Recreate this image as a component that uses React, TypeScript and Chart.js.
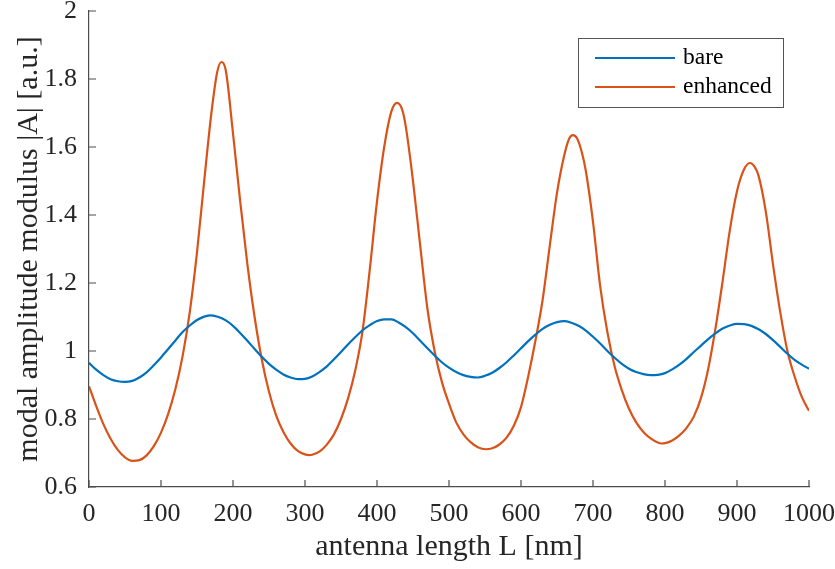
import React, { useEffect, useRef } from "react";
import { Chart, registerables } from "chart.js";

Chart.register(...registerables);

// ---- data ----
const bareL = [
  0, 10, 20, 30, 40, 50, 60, 70, 80, 90, 100, 110, 120, 130, 140, 150, 160, 170, 180, 190,
  200, 210, 220, 230, 240, 250, 260, 270, 280, 290, 300, 310, 320, 330, 340, 350, 360, 370, 380, 390,
  400, 410, 420, 430, 440, 450, 460, 470, 480, 490, 500, 510, 520, 530, 540, 550, 560, 570, 580, 590,
  600, 610, 620, 630, 640, 650, 660, 670, 680, 690, 700, 710, 720, 730, 740, 750, 760, 770, 780, 790,
  800, 810, 820, 830, 840, 850, 860, 870, 880, 890, 900, 910, 920, 930, 940, 950, 960, 970, 980, 990, 1000,
];
const bareA = [
  0.965, 0.945, 0.929, 0.917, 0.911, 0.909, 0.912, 0.922, 0.937, 0.958, 0.981, 1.006, 1.031, 1.056, 1.075, 1.091, 1.101, 1.105, 1.1, 1.09,
  1.074, 1.053, 1.03, 1.006, 0.983, 0.962, 0.945, 0.931, 0.922, 0.917, 0.918, 0.925, 0.938, 0.954, 0.975, 0.997, 1.02, 1.041, 1.061, 1.076,
  1.088, 1.093, 1.093, 1.084, 1.07, 1.052, 1.03, 1.008, 0.987, 0.967, 0.951, 0.938, 0.929, 0.924, 0.922, 0.927, 0.936, 0.95, 0.967, 0.987,
  1.008, 1.029, 1.048, 1.065, 1.077, 1.085, 1.088, 1.083, 1.074, 1.06, 1.042, 1.022, 1.0, 0.98, 0.962, 0.948, 0.938, 0.932, 0.929, 0.93,
  0.935, 0.946, 0.96, 0.977, 0.997, 1.016, 1.035, 1.052, 1.066, 1.075, 1.08, 1.079, 1.074, 1.064, 1.05, 1.032, 1.012, 0.992, 0.974, 0.96, 0.948,
];

const enhancedL = [
  0, 10, 20, 30, 40, 50, 60, 70, 80, 90, 100, 110, 120, 130, 140, 150, 160, 170, 178, 184, 190,
  200, 210, 220, 230, 240, 250, 260, 270, 280, 290, 300, 306, 310, 320, 330, 340, 350, 360, 370, 380, 390,
  400, 410, 420, 428, 435, 440, 450, 460, 470, 480, 490, 500, 510, 520, 530, 540, 551, 560, 570, 580, 590,
  600, 610, 620, 630, 640, 650, 660, 667, 672, 678, 685, 690, 700, 710, 720, 730, 740, 750, 760, 770, 780, 790, 795,
  800, 810, 820, 830, 840, 850, 860, 870, 880, 890, 900, 910, 918, 925, 930, 940, 950, 960, 970, 980, 990, 1000,
];
const enhancedA = [
  0.896, 0.838, 0.785, 0.742, 0.709, 0.687, 0.677, 0.679, 0.693, 0.72, 0.76, 0.815, 0.888, 0.985, 1.115, 1.29, 1.5, 1.7, 1.82, 1.85, 1.825,
  1.64, 1.44, 1.255, 1.1, 0.975, 0.88, 0.81, 0.762, 0.728, 0.706, 0.696, 0.694, 0.695, 0.704, 0.724, 0.754, 0.8, 0.862, 0.945, 1.06, 1.24,
  1.44, 1.6, 1.705, 1.73, 1.71, 1.66, 1.5, 1.31, 1.125, 1.0, 0.91, 0.845, 0.79, 0.755, 0.732, 0.717, 0.711, 0.714, 0.725, 0.745, 0.78,
  0.835, 0.925, 1.03, 1.15, 1.31, 1.465, 1.575, 1.625, 1.635, 1.625, 1.58, 1.53, 1.38, 1.19, 1.055, 0.955, 0.885, 0.83, 0.79, 0.762, 0.743, 0.731, 0.728,
  0.729, 0.737, 0.752, 0.774, 0.807, 0.862, 0.947, 1.065, 1.205, 1.355, 1.47, 1.535, 1.553, 1.54, 1.515, 1.41, 1.255, 1.115, 1.0, 0.925, 0.865, 0.824,
];

const seriesNames = ["bare", "enhanced"];
const seriesColors = ["#0072BD", "#D95319"];
const xTickValues = [0, 100, 200, 300, 400, 500, 600, 700, 800, 900, 1000];
const yTickValues = [0.6, 0.8, 1, 1.2, 1.4, 1.6, 1.8, 2];
const xTitle = "antenna length L [nm]";
const yTitle = "modal amplitude modulus |A| [a.u.]";

const FONT = "'Liberation Serif', 'Times New Roman', Times, serif";
const AXIS_COLOR = "#4d4d4d";
const TEXT_COLOR = "#262626";

const inwardTicks = {
  id: "inwardTicks",
  afterDraw(chart: any) {
    const { ctx, chartArea, scales } = chart;
    const len = 7;
    ctx.save();
    ctx.strokeStyle = AXIS_COLOR;
    ctx.lineWidth = 1.2;
    ctx.beginPath();
    for (const v of xTickValues) {
      const px = Math.round(scales.x.getPixelForValue(v));
      ctx.moveTo(px, chartArea.bottom);
      ctx.lineTo(px, chartArea.bottom - len);
    }
    for (const v of yTickValues) {
      const py = Math.round(scales.y.getPixelForValue(v));
      ctx.moveTo(chartArea.left, py);
      ctx.lineTo(chartArea.left + len, py);
    }
    ctx.stroke();

    // legend box
    const bx = chartArea.right - 231;
    const by = chartArea.top + 27;
    const bw = 205;
    const bh = 69;
    ctx.fillStyle = "#ffffff";
    ctx.fillRect(bx, by, bw, bh);
    ctx.strokeStyle = "#555555";
    ctx.lineWidth = 1;
    ctx.strokeRect(bx + 0.5, by + 0.5, bw, bh);
    ctx.font = `23.5px ${FONT}`;
    ctx.textBaseline = "middle";
    ctx.textAlign = "left";
    seriesNames.forEach((name, i) => {
      const ly = by + 20 + i * 29;
      ctx.strokeStyle = seriesColors[i];
      ctx.lineWidth = 2.2;
      ctx.beginPath();
      ctx.moveTo(bx + 17, ly);
      ctx.lineTo(bx + 97, ly);
      ctx.stroke();
      ctx.fillStyle = "#000000";
      ctx.fillText(name, bx + 105, ly);
    });
    ctx.restore();
  },
};

export default function App() {
  const canvasRef = useRef<HTMLCanvasElement | null>(null);

  useEffect(() => {
    if (!canvasRef.current) return;
    const chart = new Chart(canvasRef.current, {
      type: "line",
      data: {
        datasets: [
          {
            label: seriesNames[0],
            data: bareL.map((x, i) => ({ x, y: bareA[i] })),
            borderColor: seriesColors[0],
            borderWidth: 2.2,
            pointRadius: 0,
            fill: false,
            cubicInterpolationMode: "monotone",
          },
          {
            label: seriesNames[1],
            data: enhancedL.map((x, i) => ({ x, y: enhancedA[i] })),
            borderColor: seriesColors[1],
            borderWidth: 2.2,
            pointRadius: 0,
            fill: false,
            cubicInterpolationMode: "monotone",
          },
        ],
      },
      options: {
        animation: false,
        responsive: false,
        devicePixelRatio: 1,
        layout: { padding: { left: 0, top: 11, right: 26, bottom: 0 } },
        plugins: { legend: { display: false }, tooltip: { enabled: false } },
        scales: {
          x: {
            type: "linear",
            min: 0,
            max: 1000,
            afterBuildTicks: (s: any) => {
              s.ticks = xTickValues.map((v) => ({ value: v }));
            },
            afterFit: (s: any) => {
              s.height = 82;
              s.paddingLeft = 0;
              s.paddingRight = 0;
              s.paddingTop = 0;
              s.paddingBottom = 0;
            },
            grid: { display: false, drawTicks: false },
            border: { display: true, color: AXIS_COLOR, width: 1.2 },
            ticks: {
              color: TEXT_COLOR,
              font: { family: FONT, size: 26 },
              padding: 12,
              maxRotation: 0,
              autoSkip: false,
              callback: (v: any) => String(v),
            },
            title: {
              display: true,
              text: xTitle,
              color: TEXT_COLOR,
              font: { family: FONT, size: 30 },
              padding: { top: 0, bottom: 4 },
            },
          },
          y: {
            type: "linear",
            min: 0.6,
            max: 2,
            afterBuildTicks: (s: any) => {
              s.ticks = yTickValues.map((v) => ({ value: v }));
            },
            afterFit: (s: any) => {
              s.width = 89;
              s.paddingLeft = 0;
              s.paddingRight = 0;
              s.paddingTop = 0;
              s.paddingBottom = 0;
            },
            grid: { display: false, drawTicks: false },
            border: { display: true, color: AXIS_COLOR, width: 1.2 },
            ticks: {
              color: TEXT_COLOR,
              font: { family: FONT, size: 26 },
              padding: 12,
              autoSkip: false,
              callback: (v: any) => String(Number(Number(v).toFixed(1))),
            },
            title: {
              display: true,
              text: yTitle,
              color: TEXT_COLOR,
              font: { family: FONT, size: 30 },
              padding: { top: 11, bottom: 0 },
            },
          },
        },
      },
      plugins: [inwardTicks],
    });
    return () => chart.destroy();
  }, []);

  return (
    <div style={{ position: "fixed", left: 0, top: 0, width: 835, height: 569, background: "#fff" }}>
      <canvas ref={canvasRef} width={835} height={569} style={{ display: "block" }} />
    </div>
  );
}
